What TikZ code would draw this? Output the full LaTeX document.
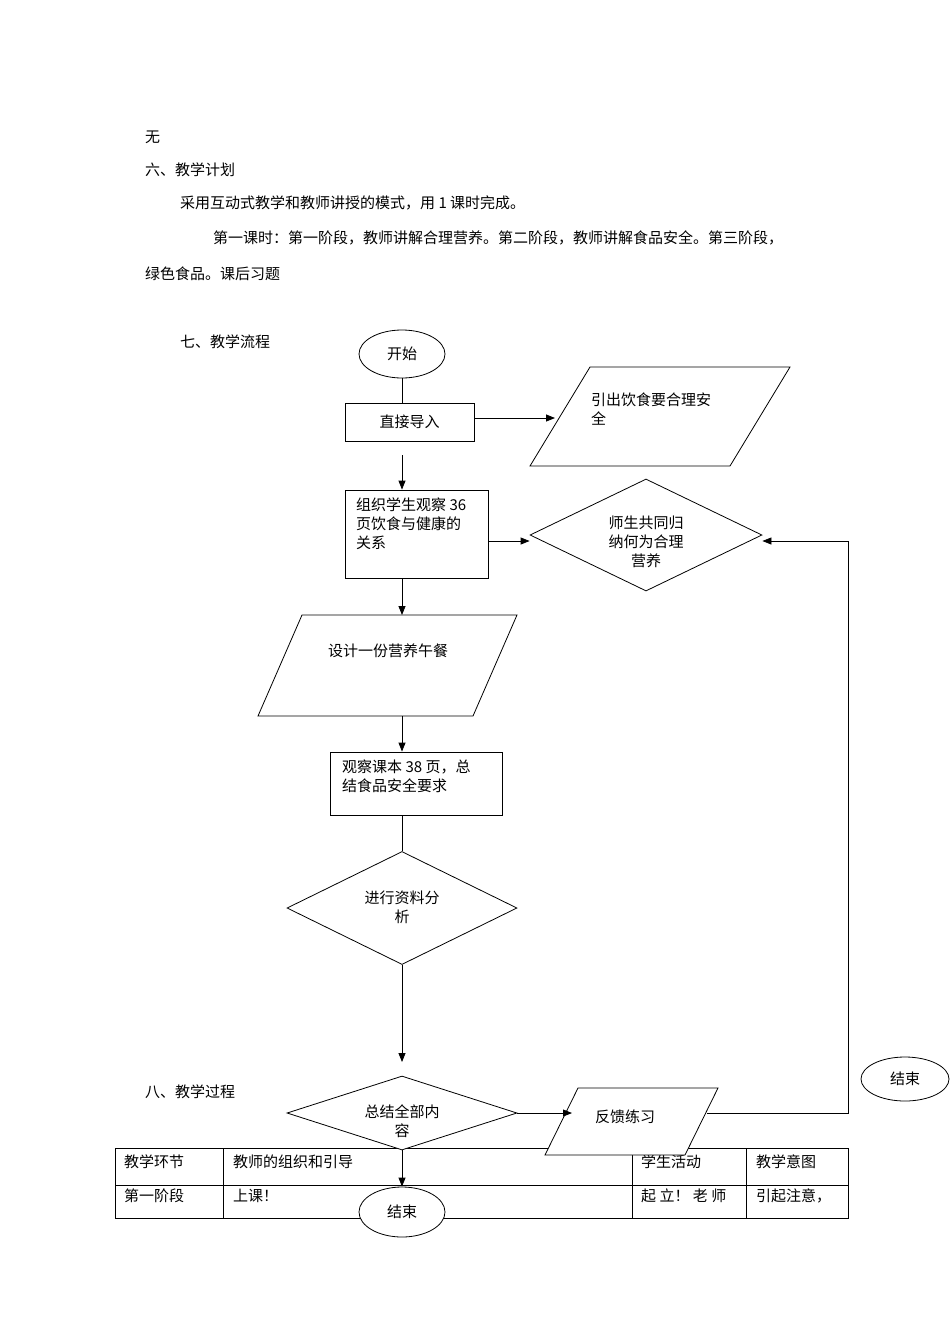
\documentclass[tikz,border=0pt]{standalone}
\usepackage{fontspec}
\setmainfont{Noto Sans CJK SC}
\usetikzlibrary{shapes.geometric,arrows.meta}
\begin{document}
\begin{tikzpicture}[x=1pt,y=-1pt,
  every node/.style={font=\fontsize{15}{19}\selectfont,inner sep=0pt},
  txt/.style={anchor=west},
  ln/.style={line width=0.8pt},
  arr/.style={ln,-{Triangle[length=9pt,width=7pt]}},
  ell/.style={ln,draw,fill=white,ellipse},
  box/.style={ln,draw,fill=white}]
\path[use as bounding box,fill=white] (0,0) rectangle (950,1344);
% text
\node[txt] (t1) at (145,137) {无};
\node[txt] (t2) at (145,170) {六、教学计划};
\node[txt] (t3) at (180,203) {采用互动式教学和教师讲授的模式，用 1 课时完成。};
\node[txt] (t4) at (213,238) {第一课时：第一阶段，教师讲解合理营养。第二阶段，教师讲解食品安全。第三阶段，};
\node[txt] (t5) at (145,274) {绿色食品。课后习题};
\node[txt] (t6) at (180,342) {七、教学流程};
\node[txt] (t7) at (145,1092) {八、教学过程};
% table
\draw[ln] (115,1148) rectangle (848,1218);
\draw[ln] (115,1185) -- (848,1185);
\foreach \x in {223,632,746} \draw[ln] (\x,1148) -- (\x,1218);
\node[txt] (h1) at (124,1162) {教学环节};
\node[txt] (h2) at (233,1162) {教师的组织和引导};
\node[txt] (h3) at (641,1162) {学生活动};
\node[txt] (h4) at (756,1162) {教学意图};
\node[txt] (r1) at (124,1196) {第一阶段};
\node[txt] (r2) at (233,1196) {上课！};
\node[txt] (r3) at (641,1196) {起 立！ 老 师};
\node[txt] (r4) at (756,1196) {引起注意，};
% shapes
\node[ell,minimum width=86pt,minimum height=48pt] (start) at (402,354) {开始};
\node[box,minimum width=129pt,minimum height=38pt] (b1) at (409.5,422) {直接导入};
\draw[ln] (590,367) -- (790,367) -- (730,466) -- (530,466) -- cycle;
\coordinate (p1l) at (555,418);
\node[align=left,anchor=north west] (p1t) at (591,393) {引出饮食要合理安\\全};
\node[box,minimum width=143pt,minimum height=88pt] (b2) at (416.5,534) {};
\node[align=left,anchor=north west] (b2t) at (356,498) {组织学生观察 36\\页饮食与健康的\\关系};
\node[ln,draw,diamond,aspect=2.07,minimum width=232pt,minimum height=112pt,inner sep=0pt] (d1) at (646,535) {};
\node[align=center] (d1t) at (646,542) {师生共同归\\纳何为合理\\营养};
\draw[ln] (302,615) -- (517,615) -- (473,716) -- (258,716) -- cycle;
\coordinate (p2top) at (402,615);
\coordinate (p2bot) at (402,716);
\node (p2t) at (388,651) {设计一份营养午餐};
\node[box,minimum width=172pt,minimum height=63pt] (b3) at (416,783.5) {};
\node[align=left,anchor=north west] (b3t) at (342,760) {观察课本 38 页，总\\结食品安全要求};
\node[ln,draw,diamond,aspect=2.04,minimum width=230pt,minimum height=113pt] (d2) at (402,908) {};
\node[align=center] (d2t) at (402,907) {进行资料分\\析};
\node[ln,draw,diamond,aspect=3.1,minimum width=230pt,minimum height=74pt,fill=white] (d3) at (402,1113) {};
\node[align=center] (d3t) at (402,1121) {总结全部内\\容};
\draw[ln,fill=white] (578,1088) -- (718,1088) -- (685,1155) -- (545,1155) -- cycle;
\coordinate (p3l) at (572,1113);
\coordinate (p3r) at (707,1113);
\node (p3t) at (625,1117) {反馈练习};
\node[ell,minimum width=88pt,minimum height=44pt] (end2) at (905,1079) {结束};
\node[ell,minimum width=86pt,minimum height=50pt] (end1) at (402,1212) {结束};
% connectors
\coordinate (c1) at (402,455);
\coordinate (c2) at (402,1062);
\coordinate (c3) at (848,1113);
\coordinate (c4) at (848,541);
\draw[ln] (start.south) -- (start.south |- b1.north);
\draw[arr] (b1.east |- 0,418) -- (p1l);
\draw[arr] (c1) -- (c1 |- b2.north);
\draw[arr] (b2.east |- 0,541) -- (d1.west |- 0,541);
\draw[arr] (b2.south -| p2top) -- (p2top);
\draw[arr] (p2bot) -- (p2bot |- b3.north);
\draw[ln] (b3.south -| d2.north) -- (d2.north);
\draw[arr] (d2.south) -- (c2);
\draw[arr] (d3.east) -- (p3l);
\draw[arr] (p3r) -- (c3) -- (c4) -- (d1.east |- c4);
\draw[arr] (d3.south) -- (end1.north);
\end{tikzpicture}
\end{document}
